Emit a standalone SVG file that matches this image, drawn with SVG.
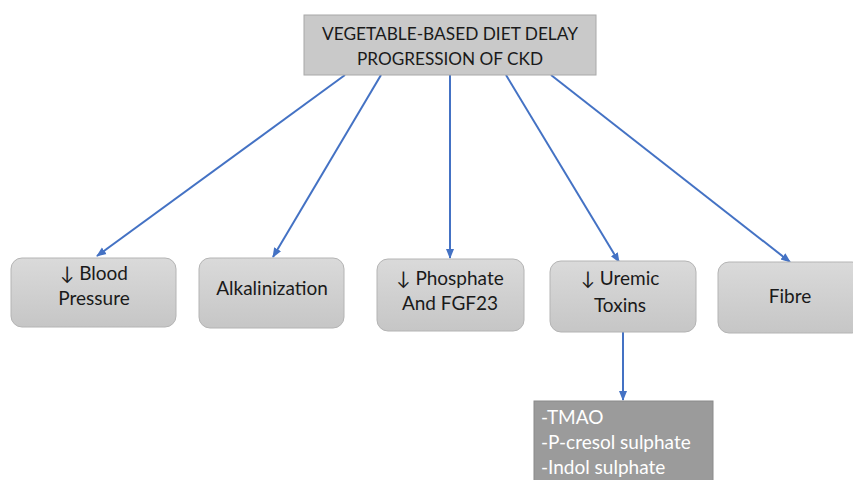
<svg xmlns="http://www.w3.org/2000/svg" width="853" height="480" viewBox="0 0 853 480">
<defs>
<linearGradient id="g" x1="0" y1="0" x2="0" y2="1">
<stop offset="0" stop-color="#dadada"/>
<stop offset="1" stop-color="#c6c6c6"/>
</linearGradient>
<marker id="ah" viewBox="0 0 10 10" refX="9" refY="5" markerWidth="5" markerHeight="5" orient="auto" markerUnits="strokeWidth">
<path d="M0,1 L10,5 L0,9 z" fill="#4472c4"/>
</marker>
<style>
.node{fill:url(#g);stroke:#b4b4b4;stroke-width:1}
.t{font-family:Lato,"Liberation Sans",sans-serif;font-size:19px;fill:#1a1a1a;text-anchor:middle}
.h{font-family:Lato,"Liberation Sans",sans-serif;font-size:18px;fill:#1a1a1a;text-anchor:middle}
.w{font-family:Lato,"Liberation Sans",sans-serif;font-size:19px;fill:#ffffff}
.c{stroke:#4472c4;stroke-width:2;fill:none;marker-end:url(#ah)}
</style>
</defs>
<rect width="853" height="480" fill="#ffffff"/>
<g id="connectors">
<line class="c" x1="345" y1="75" x2="97" y2="256"/>
<line class="c" x1="381" y1="75" x2="273" y2="257"/>
<line class="c" x1="450" y1="75" x2="450" y2="258"/>
<line class="c" x1="506" y1="75" x2="619" y2="262"/>
<line class="c" x1="551" y1="75" x2="790" y2="262"/>
<line class="c" x1="623" y1="332" x2="623" y2="400"/>
</g>
<g id="top">
<rect x="304" y="15" width="292" height="60" fill="#c9c9c9" stroke="#a8a8a8" stroke-width="1"/>
<text class="h" x="450" y="40" textLength="256" lengthAdjust="spacingAndGlyphs">VEGETABLE-BASED DIET DELAY</text>
<text class="h" x="450" y="65" textLength="186" lengthAdjust="spacingAndGlyphs">PROGRESSION OF CKD</text>
</g>
<g id="blood">
<rect class="node" x="11" y="258" width="165" height="69" rx="11"/>
<text class="t" x="94" y="280">↓ Blood</text>
<text class="t" x="94" y="305">Pressure</text>
</g>
<g id="alkal">
<rect class="node" x="199" y="258" width="145" height="70" rx="11"/>
<text class="t" x="272" y="295">Alkalinization</text>
</g>
<g id="phosphate">
<rect class="node" x="377" y="259" width="147" height="72" rx="11"/>
<text class="t" x="450" y="285">↓ Phosphate</text>
<text class="t" x="450" y="310">And FGF23</text>
</g>
<g id="uremic">
<rect class="node" x="550" y="261" width="146" height="71" rx="11"/>
<text class="t" x="620" y="285">↓ Uremic</text>
<text class="t" x="620" y="312">Toxins</text>
</g>
<g id="fibre">
<rect class="node" x="718" y="262" width="145" height="71" rx="11"/>
<text class="t" x="790" y="303">Fibre</text>
</g>
<g id="toxins-list">
<rect x="534" y="401" width="179" height="85" fill="#9b9b9b" stroke="#8a8a8a" stroke-width="1"/>
<text class="w" x="541" y="424">-TMAO</text>
<text class="w" x="541" y="449">-P-cresol sulphate</text>
<text class="w" x="541" y="474">-Indol sulphate</text>
</g>
</svg>
